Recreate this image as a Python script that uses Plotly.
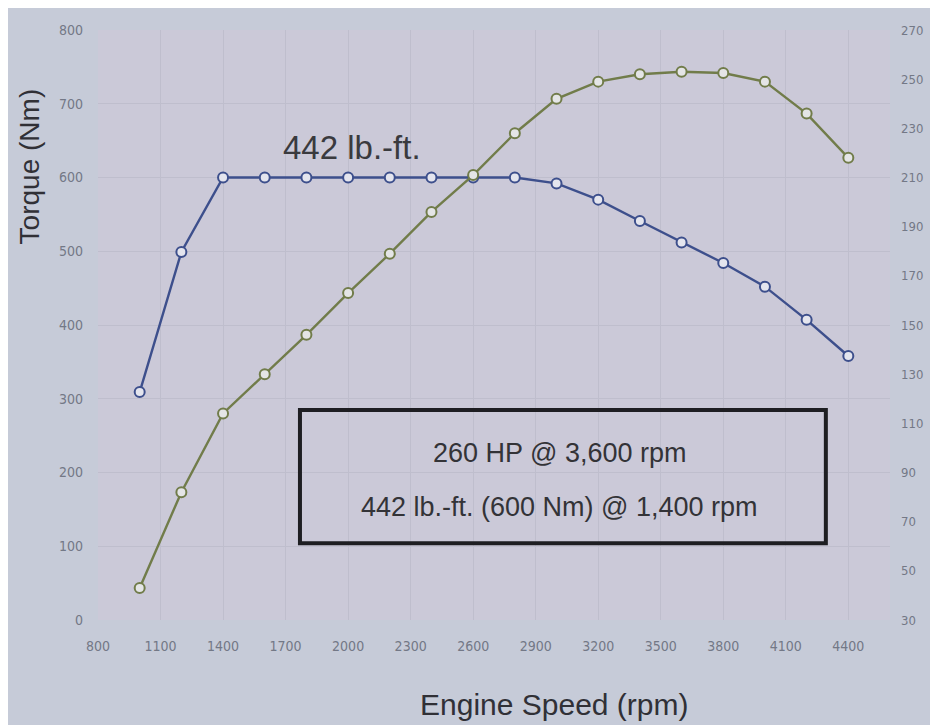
import plotly.graph_objects as go

# engine speed points (rpm)
rpm = [1000, 1200, 1400, 1600, 1800, 2000, 2200, 2400, 2600,
       2800, 3000, 3200, 3400, 3600, 3800, 4000, 4200, 4400]
# torque curve, Nm (left axis)
torque_nm = [309, 499, 600, 600, 600, 600, 600, 600, 600,
             600, 592, 570, 541, 512, 484, 452, 407, 358]
# power curve, HP (right axis)
power_hp = [43, 82, 114, 130, 146, 163, 179, 196, 211,
            228, 242, 249, 252, 253, 252.5, 249, 236, 218]

x_ticks = list(range(800, 4401, 300))

blue = '#3d4f8c'
green = '#717c4a'
tick_font = dict(family='DejaVu Sans Condensed, DejaVu Sans', size=14, color='#737886')
title_font = 'Liberation Sans, Arial'

fig = go.Figure()

fig.add_trace(go.Scatter(
    x=rpm, y=torque_nm, mode='lines+markers', name='Torque',
    line=dict(color=blue, width=2.4),
    marker=dict(symbol='circle', size=10, color='#e4e5ee', line=dict(color=blue, width=2)),
))

fig.add_trace(go.Scatter(
    x=rpm, y=power_hp, mode='lines+markers', name='Power', yaxis='y2',
    line=dict(color=green, width=2.4),
    marker=dict(symbol='circle', size=10, color='#e4e5e6', line=dict(color=green, width=2)),
))

# peak torque label
fig.add_annotation(x=2020, y=600, yshift=30, text='442 lb.-ft.', showarrow=False,
                   xanchor='center', yanchor='middle',
                   font=dict(family=title_font, size=33, color='#3a3a3e'))

# spec box
fig.add_shape(type='rect', xref='paper', yref='paper',
              x0=0.255, x1=0.919, y0=0.13, y1=0.356,
              line=dict(color='#1e1e22', width=4), fillcolor='rgba(0,0,0,0)')
fig.add_annotation(xref='paper', yref='paper', x=0.583, y=0.283, text='260 HP @ 3,600 rpm',
                   showarrow=False, xanchor='center', yanchor='middle',
                   font=dict(family=title_font, size=27, color='#333337'))
fig.add_annotation(xref='paper', yref='paper', x=0.583, y=0.192,
                   text='442 lb.-ft. (600 Nm) @ 1,400 rpm',
                   showarrow=False, xanchor='center', yanchor='middle',
                   font=dict(family=title_font, size=27, color='#333337'))

# axis titles (placed off-centre, as in the original)
fig.add_annotation(xref='paper', yref='paper', x=-0.087, y=0.769, text='Torque (Nm)',
                   textangle=-90, showarrow=False, xanchor='center', yanchor='middle',
                   borderpad=0, font=dict(family=title_font, size=28, color='#303036'))
fig.add_annotation(xref='paper', yref='paper', x=0.576, y=-0.144, text='Engine Speed (rpm)',
                   showarrow=False, xanchor='center', yanchor='middle',
                   font=dict(family=title_font, size=30, color='#303036'))

fig.update_layout(
    width=930, height=717,
    margin=dict(l=90, r=48, t=22, b=105),
    paper_bgcolor='#c6cbd8',
    plot_bgcolor='#cbc9d8',
    showlegend=False,
    xaxis=dict(
        range=[800, 4600], tickvals=x_ticks, ticktext=[str(v) for v in x_ticks],
        showgrid=True, gridcolor='#bfbecd', gridwidth=1, zeroline=False,
        tickfont=tick_font, ticks='', ticklabelstandoff=16, automargin=False,
    ),
    yaxis=dict(
        range=[0, 800], dtick=100, showgrid=True, gridcolor='#bfbecd', zeroline=False,
        tickfont=tick_font, ticks='', ticklabelstandoff=14, automargin=False,
    ),
    yaxis2=dict(
        range=[30, 270], tick0=30, dtick=20, overlaying='y', side='right', showgrid=False,
        zeroline=False, tickfont=dict(tick_font, size=13), ticks='', ticklabelstandoff=10,
        automargin=False,
    ),
)

fig.write_html("out.html")
